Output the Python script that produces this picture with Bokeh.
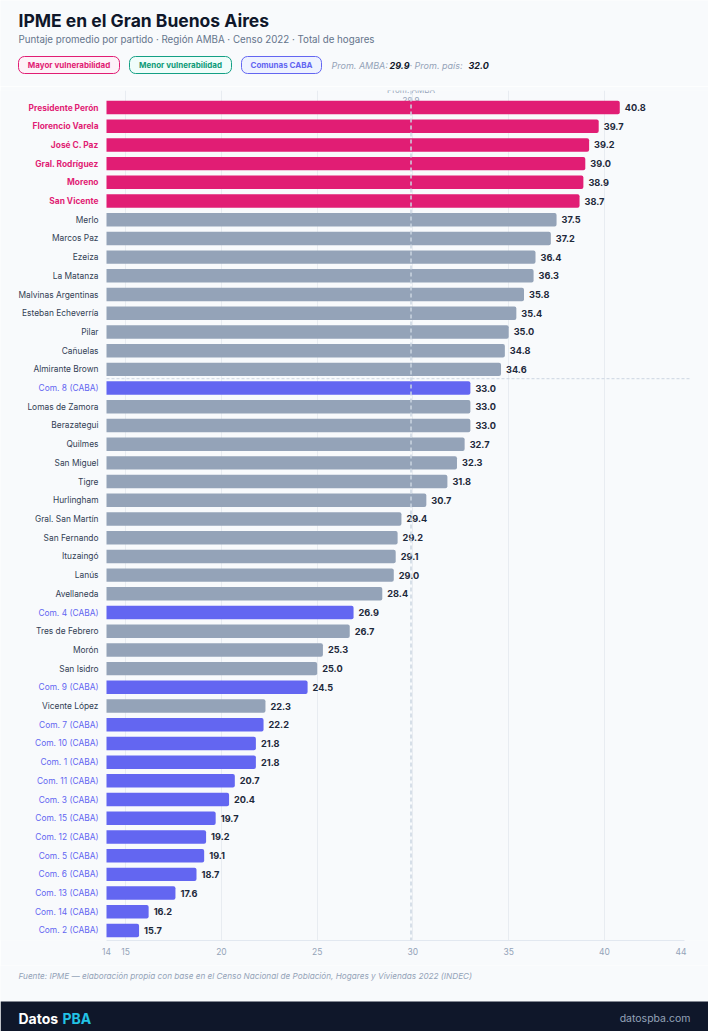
from bokeh.plotting import figure
from bokeh.models import ColumnDataSource, Range1d, Span, FixedTicker
from bokeh.layouts import column
from bokeh.embed import file_html
from bokeh.resources import INLINE
from bokeh.core.properties import value

# ---------------- data ----------------
names = [
    "Presidente Perón", "Florencio Varela", "José C. Paz", "Gral. Rodríguez", "Moreno",
    "San Vicente", "Merlo", "Marcos Paz", "Ezeiza", "La Matanza",
    "Malvinas Argentinas", "Esteban Echeverría", "Pilar", "Cañuelas", "Almirante Brown",
    "Com. 8 (CABA)", "Lomas de Zamora", "Berazategui", "Quilmes", "San Miguel",
    "Tigre", "Hurlingham", "Gral. San Martín", "San Fernando", "Ituzaingó",
    "Lanús", "Avellaneda", "Com. 4 (CABA)", "Tres de Febrero", "Morón",
    "San Isidro", "Com. 9 (CABA)", "Vicente López", "Com. 7 (CABA)", "Com. 10 (CABA)",
    "Com. 1 (CABA)", "Com. 11 (CABA)", "Com. 3 (CABA)", "Com. 15 (CABA)", "Com. 12 (CABA)",
    "Com. 5 (CABA)", "Com. 6 (CABA)", "Com. 13 (CABA)", "Com. 14 (CABA)", "Com. 2 (CABA)",
]
values = [
    40.8, 39.7, 39.2, 39.0, 38.9,
    38.7, 37.5, 37.2, 36.4, 36.3,
    35.8, 35.4, 35.0, 34.8, 34.6,
    33.0, 33.0, 33.0, 32.7, 32.3,
    31.8, 30.7, 29.4, 29.2, 29.1,
    29.0, 28.4, 26.9, 26.7, 25.3,
    25.0, 24.5, 22.3, 22.2, 21.8,
    21.8, 20.7, 20.4, 19.7, 19.2,
    19.1, 18.7, 17.6, 16.2, 15.7,
]
groups = [
    "mayor", "mayor", "mayor", "mayor", "mayor",
    "mayor", "resto", "resto", "resto", "resto",
    "resto", "resto", "resto", "resto", "resto",
    "caba", "resto", "resto", "resto", "resto",
    "resto", "resto", "resto", "resto", "resto",
    "resto", "resto", "caba", "resto", "resto",
    "resto", "caba", "resto", "caba", "caba",
    "caba", "caba", "caba", "caba", "caba",
    "caba", "caba", "caba", "caba", "caba",
]
amba_avg = 29.9
pais_avg = 32.0
x_ticks = [14, 15, 20, 25, 30, 35, 40, 44]
grid_ticks = [15, 20, 25, 30, 35, 40]
legend_labels = ["Mayor vulnerabilidad", "Menor vulnerabilidad", "Comunas CABA"]

title = "IPME en el Gran Buenos Aires"
subtitle = "Puntaje promedio por partido · Región AMBA · Censo 2022 · Total de hogares"
source_note = ("Fuente: IPME — elaboración propia con base en el Censo Nacional de Población, "
               "Hogares y Viviendas 2022 (INDEC)")

# ---------------- style ----------------
BG = "#f8fafc"
FONT = "Inter"
W = 708
PINK = "#e11d74"
GRAY = "#94a3b8"
INDIGO = "#6366f1"
TEAL = "#0f9b78"
bar_colors = {"mayor": PINK, "resto": GRAY, "caba": INDIGO}
label_colors = {"mayor": PINK, "resto": "#334155", "caba": INDIGO}
label_styles = {"mayor": "bold", "resto": "normal", "caba": "normal"}


def blank(h):
    f = figure(width=W, height=h, x_range=Range1d(0, W), y_range=Range1d(h, 0),
               output_backend="svg", toolbar_location=None, tools="", min_border=0)
    f.axis.visible = False
    f.grid.visible = False
    f.outline_line_color = None
    f.background_fill_color = BG
    f.border_fill_color = BG
    return f


# ---------------- header ----------------
HH = 86
h = blank(HH)
h.text(x=[18], y=[20], text=[title], text_font=value(FONT), text_font_size="17.5px",
       text_font_style="bold", text_color="#0f172a", text_baseline="middle")
h.text(x=[18], y=[38.5], text=[subtitle], text_font=value(FONT), text_font_size="9.75px",
       text_color="#64748b", text_baseline="middle")

pill_left = [18, 129, 241]
pill_right = [119, 231, 321]
pill_fill = ["#fdf2f8", "#f0fdfa", "#eef2ff"]
pill_line = [PINK, "#14a085", INDIGO]
pill_text = [PINK, TEAL, INDIGO]
h.quad(left=pill_left, right=pill_right, top=[56] * 3, bottom=[73] * 3,
       fill_color=pill_fill, line_color=pill_line, line_width=1, border_radius=6)
h.text(x=[(a + b) / 2 for a, b in zip(pill_left, pill_right)], y=[64.5] * 3, text=legend_labels,
       text_font=value(FONT), text_font_size="8px", text_font_style="bold",
       text_color=pill_text, text_align="center", text_baseline="middle")

stat_x = [331, 389, 409, 468]
stat_t = ["Prom. AMBA:", f"{amba_avg:.1f}", "· Prom. país:", f"{pais_avg:.1f}"]
stat_c = [GRAY, "#0f172a", GRAY, "#0f172a"]
stat_s = ["italic", "bold italic", "italic", "bold italic"]
for sx, st, sc, ss in zip(stat_x, stat_t, stat_c, stat_s):
    h.text(x=[sx], y=[64.5], text=[st], text_font=value(FONT), text_font_size="9px",
           text_font_style=ss, text_color=sc, text_baseline="middle")

# ---------------- main chart ----------------
MH = 879
n = len(names)
# frame spans full width; value 14 sits at x=106 px, 44.18 at x=684 px
PX = 578 / 30.18
x_start = 14 - 106 / PX
x_end = 44.18 + 24 / PX
p = figure(width=W, height=MH, x_range=Range1d(x_start, x_end),
           y_range=Range1d(44.535, -0.909),
           output_backend="svg", toolbar_location=None, tools="")
p.min_border_left = 0
p.min_border_right = 0
p.min_border_top = 4
p.min_border_bottom = 25
p.background_fill_color = BG
p.border_fill_color = BG
p.outline_line_color = None
p.yaxis.visible = False
p.ygrid.visible = False
p.xgrid.ticker = FixedTicker(ticks=grid_ticks)
p.xgrid.grid_line_color = "#e8ecf1"
p.xgrid.bounds = (x_ticks[0], x_ticks[-1])
p.xaxis.ticker = FixedTicker(ticks=x_ticks)
p.xaxis.bounds = (x_ticks[0], 44.18)
p.xaxis.major_tick_line_color = None
p.xaxis.major_tick_out = 0
p.xaxis.major_tick_in = 0
p.xaxis.minor_tick_line_color = None
p.xaxis.axis_line_color = "#e2e8f0"
p.xaxis.major_label_text_font = FONT
p.xaxis.major_label_text_font_size = "8.5px"
p.xaxis.major_label_text_color = GRAY
p.xaxis.major_label_standoff = 7

# average label (drawn first so the bars cover it, clipped by the frame)
p.text(x=[amba_avg], y=[-0.12], text=[f"Prom. AMBA\n{amba_avg:.1f}"], text_font=value(FONT),
       text_font_size="8px", text_color=GRAY, text_align="center", text_baseline="bottom",
       text_line_height=1.0)

for g in ["mayor", "resto", "caba"]:
    idx = [i for i in range(n) if groups[i] == g]
    src = ColumnDataSource(dict(
        y=idx,
        name=[names[i] for i in idx],
        val=[values[i] for i in idx],
        lab=[f"{values[i]:.1f}" for i in idx],
        base=[x_ticks[0]] * len(idx),
    ))
    p.hbar(y="y", left="base", right="val", height=0.72, source=src,
           fill_color=bar_colors[g], line_color=None, border_radius=(0, 2, 2, 0))
    p.text(x="val", y="y", text="lab", source=src, x_offset=5, text_font=value(FONT),
           text_font_size="9.2px", text_font_style="bold", text_color="#1e293b",
           text_baseline="middle")
    p.text(x="base", y="y", text="name", source=src, x_offset=-8,
           text_font=value(FONT), text_font_size="8.4px",
           text_font_style=label_styles[g], text_color=label_colors[g],
           text_align="right", text_baseline="middle")

p.add_layout(Span(location=amba_avg, dimension="height", line_color="#cbd5e1",
                  line_dash="4 3", line_width=1.5))
first_caba = groups.index("caba")
p.segment(x0=[x_ticks[0]], x1=[x_ticks[-1] + 0.5], y0=[first_caba - 0.5], y1=[first_caba - 0.5],
          line_color="#cbd5e1", line_dash="3 2", line_width=1)

# ---------------- footer ----------------
FH = 66
f = blank(FH)
f.text(x=[18], y=[10], text=[source_note], text_font=value(FONT), text_font_size="8.2px",
       text_font_style="italic", text_color=GRAY, text_baseline="middle")
f.quad(left=[0], right=[W], top=[36], bottom=[FH], fill_color="#0f172a", line_color=None)
f.text(x=[18], y=[53], text=["Datos"], text_font=value(FONT), text_font_size="14px",
       text_font_style="bold", text_color="#ffffff", text_baseline="middle")
f.text(x=[62], y=[53], text=["PBA"], text_font=value(FONT), text_font_size="14px",
       text_font_style="bold", text_color="#22c3e6", text_baseline="middle")
f.text(x=[690], y=[53], text=["datospba.com"], text_font=value(FONT), text_font_size="10.5px",
       text_color=GRAY, text_align="right", text_baseline="middle")

layout = column(h, p, f, spacing=0)
open("out.html", "w").write(file_html(layout, INLINE))
